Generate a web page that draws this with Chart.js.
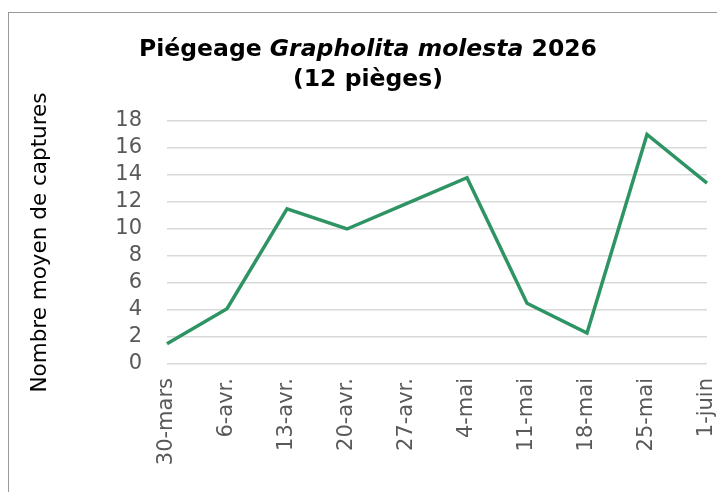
<!DOCTYPE html>
<html>
<head>
<meta charset="utf-8">
<script src="https://cdn.jsdelivr.net/npm/chart.js@4.4.1/dist/chart.umd.min.js"></script>
<style>
  html, body { margin: 0; padding: 0; background: #fff; overflow: hidden; }
  #wrap { position: relative; width: 717px; height: 492px; }
  #frame { position: absolute; left: 8px; top: 12px; width: 730px; height: 500px; border: 1px solid #9a9a9a; box-sizing: border-box; }
  #titre { position: absolute; left: 18px; width: 700px; top: 33px; text-align: center;
           font: bold 23.5px "DejaVu Sans", Verdana, sans-serif; color: #000; line-height: 30px; }
  canvas { position: absolute; left: 0; top: 0; }
</style>
</head>
<body>
<div id="wrap">
  <div id="frame"></div>
  <canvas id="myChart" width="717" height="492"></canvas>
  <div id="titre">Piégeage <i>Grapholita molesta</i> 2026<br>(12 pièges)</div>
</div>
<script>
// dates de relevé
let dates = ["30-mars", "6-avr.", "13-avr.", "20-avr.", "27-avr.", "4-mai", "11-mai", "18-mai", "25-mai", "1-juin"];
// nombre moyen de captures par piège
let captures = [1.5, 4.1, 11.5, 10, 11.9, 13.8, 4.5, 2.3, 17, 13.4];
let yTicks = [0, 2, 4, 6, 8, 10, 12, 14, 16, 18];

const ctx = document.getElementById('myChart').getContext('2d');
const myChart = new Chart(ctx, {
    type: 'line',
    data: {
        labels: dates,
        datasets: [{
            label: 'Captures',
            data: captures,
            borderColor: '#2e9464',
            borderWidth: 3.5,
            pointRadius: 0,
            tension: 0,
            fill: false
        }]
    },
    options: {
        responsive: false,
        animation: false,
        layout: { padding: { left: 28, top: 121, right: 10, bottom: 0 } },
        plugins: {
            legend: { display: false },
            tooltip: { enabled: false }
        },
        scales: {
            x: {
                offset: false,
                grid: { display: false },
                border: { display: false },
                ticks: {
                    color: '#595959',
                    font: { family: 'DejaVu Sans', size: 21 },
                    minRotation: 90,
                    maxRotation: 90,
                    autoSkip: false,
                    padding: 6
                },
                afterFit: function(scale) {
                    scale.height = 128;
                    scale.paddingLeft = 0;
                    scale.paddingRight = 0;
                }
            },
            y: {
                min: 0,
                max: 18,
                afterBuildTicks: function(scale) { scale.ticks = yTicks.map(v => ({ value: v })); },
                grid: { color: '#d9d9d9', lineWidth: 1.5, drawTicks: false },
                border: { display: false },
                ticks: {
                    color: '#595959',
                    font: { family: 'DejaVu Sans', size: 21 },
                    padding: 25,
                    autoSkip: false
                },
                title: {
                    display: true,
                    text: 'Nombre moyen de captures',
                    color: '#000',
                    font: { family: 'DejaVu Sans', size: 21.5 },
                    padding: { top: 0, bottom: 0 }
                },
                afterFit: function(scale) { scale.width = 139; }
            }
        }
    }
});
</script>
</body>
</html>
